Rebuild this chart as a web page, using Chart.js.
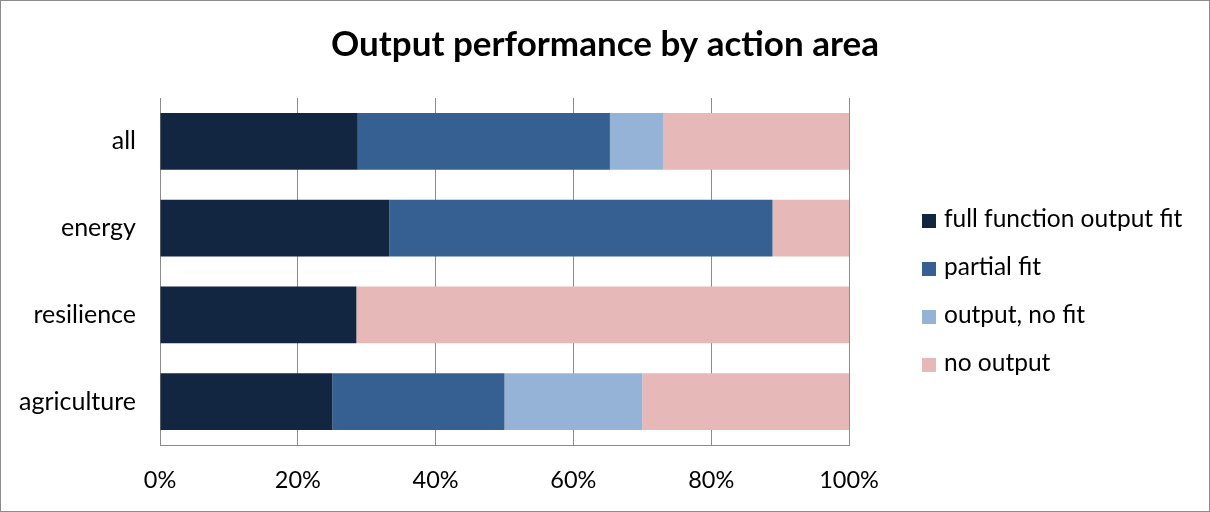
<!DOCTYPE html>
<html>
<head>
<meta charset="utf-8">
<script src="https://cdn.jsdelivr.net/npm/chart.js@4"></script>
<style>
    html, body { margin: 0; padding: 0; background: #fff; }
    #wrap {
        position: relative;
        width: 1210px;
        height: 512px;
        box-sizing: border-box;
        border: 1px solid #8c8c8c;
    }
    #legend {
        position: absolute;
        left: 921px;
        top: 193px;
        font-family: Lato, "Open Sans", sans-serif;
        font-size: 24.5px;
        color: #000;
    }
    .item { height: 48px; line-height: 48px; white-space: nowrap; }
    .swatch {
        display: inline-block;
        width: 14px;
        height: 14px;
        margin-right: 8px;
        vertical-align: -1px;
    }
</style>
</head>
<body>
<div id="wrap"><canvas id="chart"></canvas><div id="legend"></div></div>
<script>
    // 카테고리 (위에서 아래 순서)
    const areas = ['all', 'energy', 'resilience', 'agriculture'];

    // 시리즈별 비율 (%)
    const fullFit = [28.7, 33.3, 28.5, 25.0];
    const partialFit = [36.6, 55.6, 0, 25.0];
    const outputNoFit = [7.7, 0, 0, 20.0];
    const noOutput = [27.0, 11.1, 71.5, 30.0];

    const seriesNames = ['full function output fit', 'partial fit', 'output, no fit', 'no output'];
    const seriesColors = ['#122641', '#366092', '#95b3d7', '#e6b8b7'];
    const xTicks = [0, 20, 40, 60, 80, 100];

    const fontFamily = 'Lato, "Open Sans", sans-serif';

    const datasets = [fullFit, partialFit, outputNoFit, noOutput].map((values, i) => ({
        label: seriesNames[i],
        data: values,
        backgroundColor: seriesColors[i],
        borderWidth: 0,
        barPercentage: 0.655,
        categoryPercentage: 1.0
    }));

    // 제목을 캔버스 전체 폭 기준으로 가운데 정렬
    const centerTitle = {
        id: 'centerTitle',
        afterLayout(chart) {
            const t = chart.titleBlock;
            if (t) {
                t.left = 0;
                t.right = chart.width;
                t.width = chart.width;
            }
        }
    };

    const chart = new Chart(document.getElementById('chart').getContext('2d'), {
        type: 'bar',
        data: { labels: areas, datasets: datasets },
        plugins: [centerTitle],
        options: {
            indexAxis: 'y',
            responsive: true,
            maintainAspectRatio: false,
            animation: false,
            // 오른쪽 범례 자리 확보
            layout: { padding: { top: 0, right: 360, bottom: 0, left: 0 } },
            plugins: {
                title: {
                    display: true,
                    text: 'Output performance by action area',
                    color: '#000',
                    font: { family: fontFamily, size: 35, weight: 'bold' },
                    padding: { top: 23, bottom: 32 }
                },
                legend: { display: false },
                tooltip: { enabled: false }
            },
            scales: {
                x: {
                    stacked: true,
                    min: 0,
                    max: 100,
                    afterBuildTicks: axis => { axis.ticks = xTicks.map(v => ({ value: v })); },
                    afterFit: axis => { axis.height = 66; },
                    ticks: {
                        color: '#000',
                        padding: 21,
                        font: { family: fontFamily, size: 23.5 },
                        callback: v => v + '%'
                    },
                    grid: { color: '#8c8c8c', lineWidth: 1, drawTicks: false },
                    border: { color: '#8c8c8c', width: 1 }
                },
                y: {
                    stacked: true,
                    afterFit: axis => { axis.width = 159; },
                    ticks: {
                        color: '#000',
                        padding: 24,
                        font: { family: fontFamily, size: 25 }
                    },
                    grid: { display: false, drawTicks: false },
                    border: { color: '#8c8c8c', width: 1 }
                }
            }
        }
    });

    // 데이터셋에서 범례 만들기
    const legendEl = document.getElementById('legend');
    chart.data.datasets.forEach(ds => {
        const row = document.createElement('div');
        row.className = 'item';
        const sw = document.createElement('span');
        sw.className = 'swatch';
        sw.style.background = ds.backgroundColor;
        row.appendChild(sw);
        row.appendChild(document.createTextNode(ds.label));
        legendEl.appendChild(row);
    });
</script>
</body>
</html>
